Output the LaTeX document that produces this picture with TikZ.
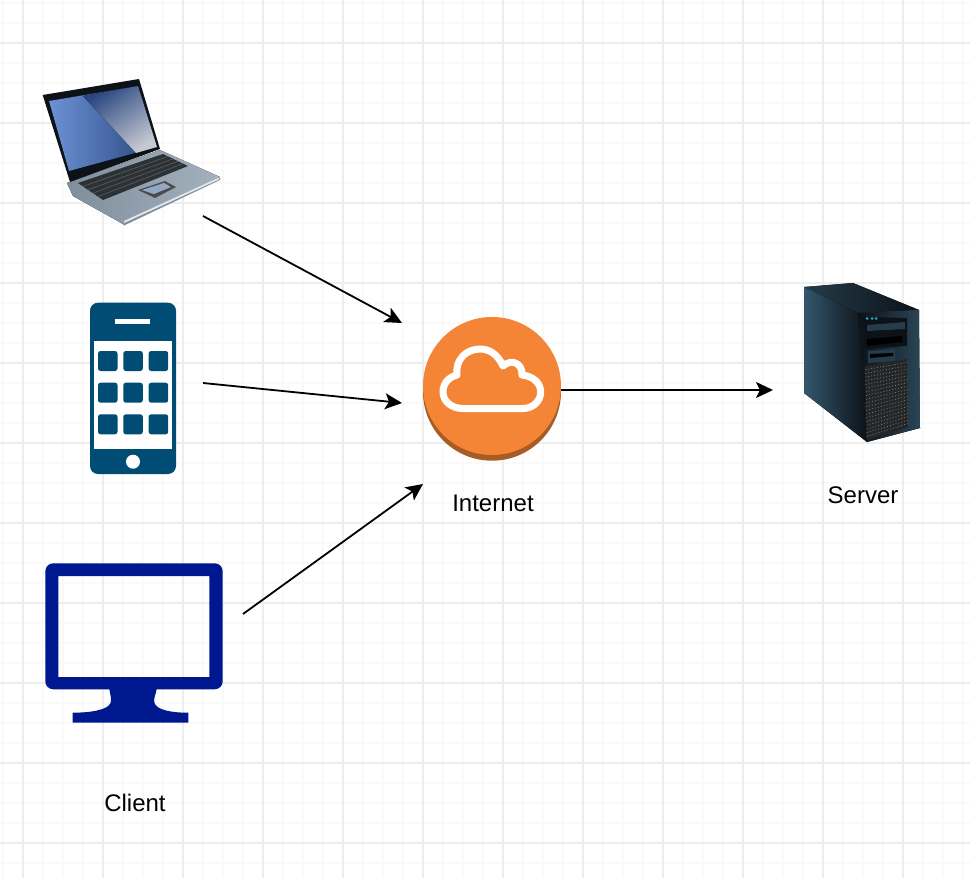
\documentclass[tikz,border=0pt]{standalone}
\usepackage{fontspec}
\setmainfont{Liberation Sans}
\usetikzlibrary{arrows.meta,positioning,calc}

\definecolor{phoneblue}{HTML}{004C74}
\definecolor{monitorblue}{HTML}{00188F}
\definecolor{cloudorange}{HTML}{F58536}
\definecolor{clouddark}{HTML}{A85C25}
\definecolor{towerdark}{HTML}{0C1217}
\definecolor{towerside}{HTML}{34566C}
\definecolor{lapsilver}{HTML}{A3B2BE}
\definecolor{lapsteel}{HTML}{7F8E9A}
\definecolor{lapkeys}{HTML}{2C3136}
\definecolor{lapblue}{HTML}{6C92D4}
\definecolor{lapnavy}{HTML}{294680}
\definecolor{lapsheen}{HTML}{C6C9D2}

\tikzset{
	minorgrid/.style={draw=black!2.5,line width=1.2pt},
	majorgrid/.style={draw=black!7,line width=1.4pt},
	link/.style={-{Stealth[length=17,width=16,inset=4]},line width=1.8pt,black},
	label/.style={font=\fontsize{24}{28}\selectfont,inner sep=0pt},
	appkey/.style={fill=phoneblue,rounded corners=2.5pt}
}

\begin{document}
\begin{tikzpicture}[x=1pt,y=-1pt]
	\useasboundingbox (0,0) rectangle (970,878);
	\fill[white] (0,0) rectangle (970,878);

	% grid
	\foreach \gx in {3,23,...,970} \draw[minorgrid] (\gx,0) -- (\gx,878);
	\foreach \gy in {3,23,...,878} \draw[minorgrid] (0,\gy) -- (970,\gy);
	\foreach \gx in {23,103,...,970} \draw[majorgrid] (\gx,0) -- (\gx,878);
	\foreach \gy in {43,123,...,878} \draw[majorgrid] (0,\gy) -- (970,\gy);

	% laptop
	\fill[left color=lapsteel,right color=lapsilver] (67,183) -- (160,150) -- (220,177) -- (123,224) -- (73,196) -- cycle;
	\fill[lapsteel] (123,224) -- (220,178) -- (220,180) -- (124,225.5) -- cycle;
	\fill[white!70!lapsilver] (124,221) -- (218,178) -- (219,179.5) -- (124,223) -- cycle;
	\fill[lapkeys] (78,183) -- (163,154) -- (188,166) -- (103,200) -- cycle;
	\foreach \kr in {0.2,0.4,0.6,0.8}
		\draw[black!65,line width=0.7pt] ($(78,183)!\kr!(103,200)$) -- ($(163,154)!\kr!(188,166)$);
	\fill[black!70] (138,190) -- (165,181) -- (176,187) -- (155,198) -- cycle;
	\fill[lapsilver!70!lapblue] (142,190) -- (164,183) -- (171,187) -- (154,194) -- cycle;
	\fill[towerdark] (42.7,95) -- (139,79) -- (160,149) -- (70,182) -- cycle;
	\fill[left color=lapblue,right color=lapnavy] (49,101) -- (138,86) -- (157,147) -- (69,171) -- cycle;
	\fill[left color=lapnavy,right color=lapsheen,shading angle=35] (83,96) -- (138,86) -- (157,147) -- (136,153) -- cycle;

	% phone
	\fill[phoneblue,rounded corners=8pt] (90,302.7) rectangle (176,474);
	\fill[white] (94,341) rectangle (171.7,449.3);
	\fill[white] (115.3,319.3) rectangle (150,323.7);
	\fill[white] (133,461.7) circle[radius=7];
	\foreach \kx in {98,123.3,148.7}
		\foreach \ky in {351,382.7,414.3}
			\fill[appkey] (\kx,\ky) rectangle ++(19.5,20);

	% monitor
	\fill[monitorblue,even odd rule] [rounded corners=8pt] (45.3,563.3) rectangle (222.7,689.3)
		[sharp corners] (58.3,576) rectangle (209.3,677);
	\fill[monitorblue] (109.3,689) .. controls (110,694) and (112,699) .. (110.5,703)
		.. controls (108,710) and (90,712.7) .. (72.7,712.7) -- (72.7,722.7) -- (188.3,722.7) -- (188.3,712.7)
		.. controls (171,712.7) and (157,710) .. (154.5,703) .. controls (153,699) and (156,694) .. (156.7,689) -- cycle;

	% internet
	\fill[clouddark] (492,391.7) circle[radius=69];
	\node[circle,fill=cloudorange,minimum size=138pt,inner sep=0pt] (internet) at (492,386) {};
	\draw[white,line width=7pt,line join=round]
		(463,408.5) .. controls (451,408.5) and (443,401) .. (443,392)
		.. controls (443,383) and (449,377) .. (457,375)
		.. controls (455,360) and (466,349) .. (480,349)
		.. controls (490,349) and (498,355) .. (503,366)
		.. controls (512,358) and (523,364) .. (522,375)
		.. controls (533,376) and (540.7,383) .. (540.7,392)
		.. controls (540.7,401) and (533,408.5) .. (523,408.5) -- cycle;

	% server
	\fill[left color=towerside!60!towerdark,right color=towerdark] (804,287) -- (853,283) -- (919,310) -- (858,313) -- cycle;
	\fill[left color=towerside,right color=towerdark] (804,287) -- (858,313) -- (867,442) -- (804,393) -- cycle;
	\fill[left color=towerdark,right color=towerside!80!black] (858,313) -- (919,310) -- (920,428) -- (867,442) -- cycle;
	\fill[towerdark] (863,317) -- (907,318) -- (907,346) -- (864,349) -- cycle;
	\fill[towerside!70!black] (867,325) -- (905,322) -- (905,329) -- (867,331) -- cycle;
	\fill[black] (867,339) -- (902,336) -- (902,342) -- (867,346) -- cycle;
	\fill[towerside!70!black] (868,351) -- (895,349) -- (895,361) -- (868,363) -- cycle;
	\fill[black] (870,354) -- (893,353) -- (893,356) -- (870,358) -- cycle;
	\fill[black!85] (865,366) -- (907,359) -- (908,427) -- (867,440) -- cycle;
	\foreach \dr in {0.05,0.1,...,1}
		\draw[towerside!70!white,line width=0.6pt,dash pattern=on 1pt off 2pt] ($(865,366)!\dr!(867,440)$) -- ($(907,359)!\dr!(908,427)$);
	\foreach \ledx in {867,872,876}
		\fill[cyan!70!teal] (\ledx,318.5) circle[radius=1.5];

	% names
	\node[label] (client) at (135,803) {Client};
	\node[label] (internetname) at (493,503) {Internet};
	\node[label] (servername) at (863,495) {Server};

	% arrow ends
	\coordinate (laptopout) at (203,216);
	\coordinate (phoneout) at (203,383);
	\coordinate (monitorout) at (243,614);
	\coordinate (laptopin) at (402,323);
	\coordinate (phonein) at (402,403);
	\coordinate (monitorin) at (423,484);
	\coordinate (serverin) at (773,390);
	\coordinate (internetout) at (561,390);

	\draw[link] (laptopout) -- (laptopin);
	\draw[link] (phoneout) -- (phonein);
	\draw[link] (monitorout) -- (monitorin);
	\draw[link] (internetout) -- (serverin);
\end{tikzpicture}
\end{document}
